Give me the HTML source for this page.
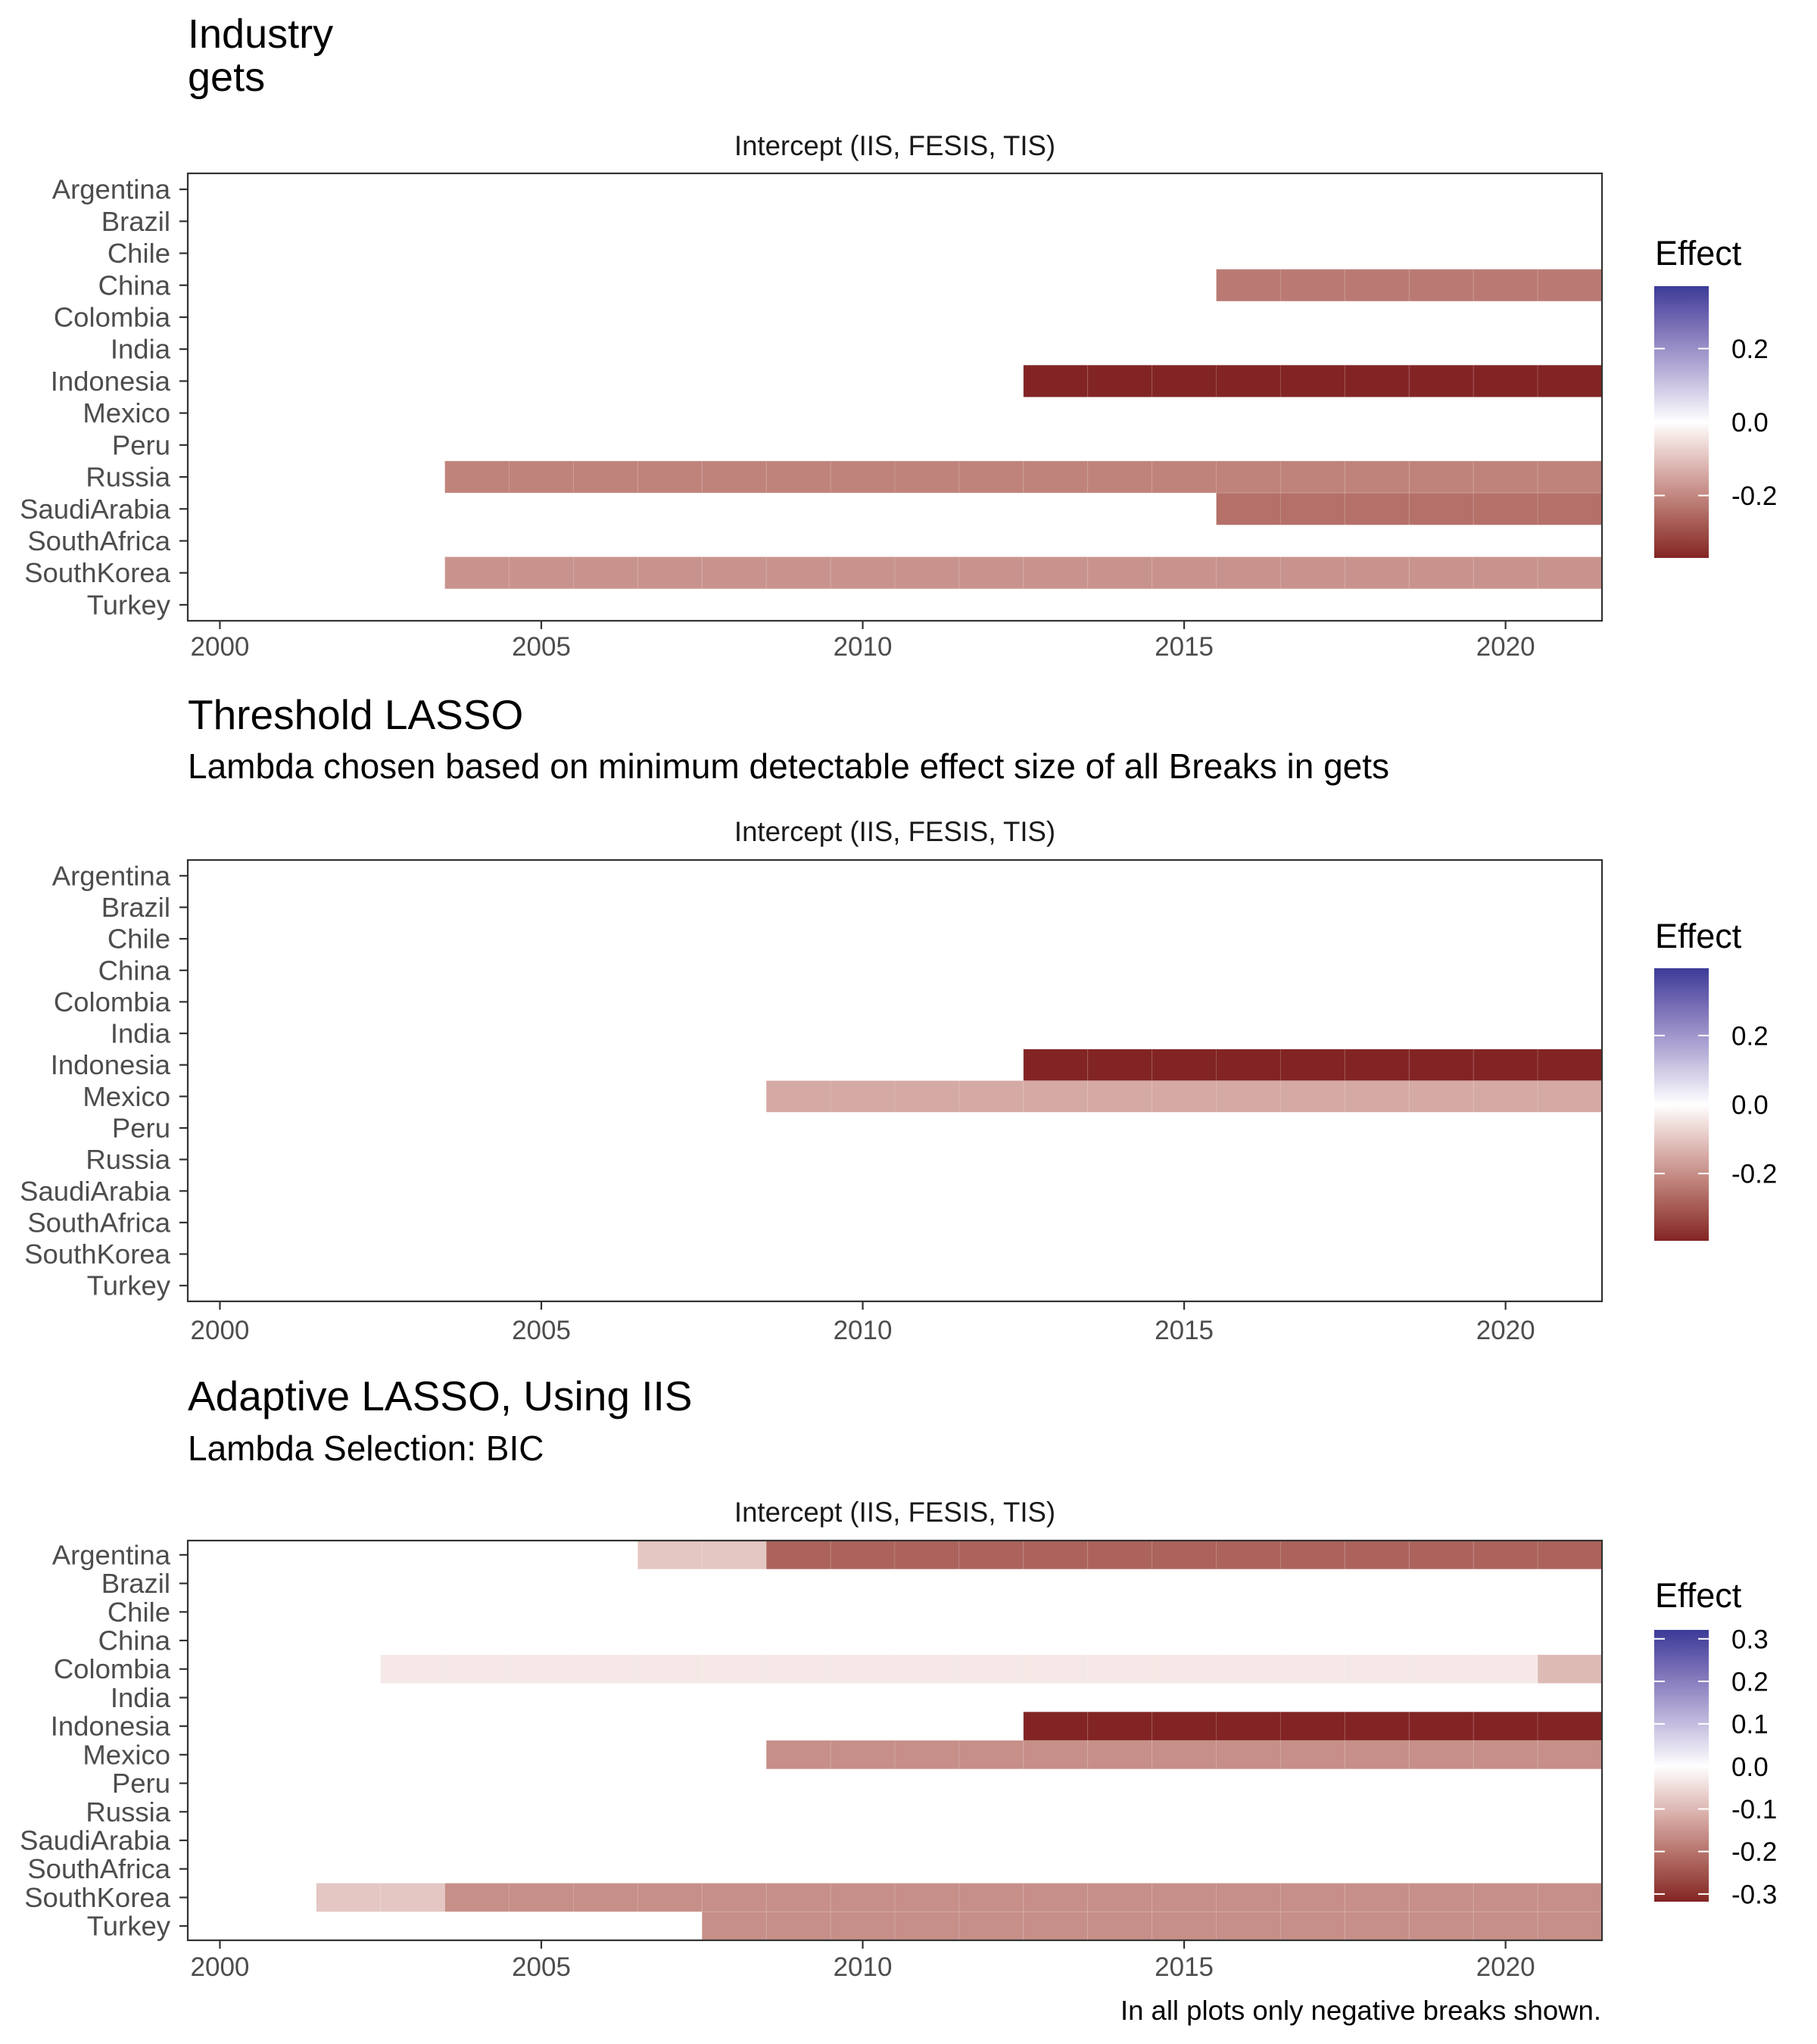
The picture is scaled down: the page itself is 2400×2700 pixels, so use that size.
<!DOCTYPE html>
<html><head><meta charset="utf-8"><title>Industry breaks</title>
<style>html,body{margin:0;padding:0;background:#fff}svg{display:block;font-family:"Liberation Sans",Arial,sans-serif}</style>
</head><body>
<svg id="chart" width="2400" height="2700" viewBox="0 0 2400 2700" xmlns="http://www.w3.org/2000/svg">
<rect width="2400" height="2700" fill="#fff"/>
<text x="248" y="63" font-size="54" fill="#000">Industry</text>
<text x="248" y="120" font-size="54" fill="#000">gets</text>
<text x="248" y="963" font-size="55" fill="#000">Threshold LASSO</text>
<text x="248" y="1028" font-size="46" fill="#000">Lambda chosen based on minimum detectable effect size of all Breaks in gets</text>
<text x="248" y="1863" font-size="55" fill="#000">Adaptive LASSO, Using IIS</text>
<text x="248" y="1929" font-size="46" fill="#000">Lambda Selection: BIC</text>
<text x="2115" y="2668" font-size="36.5" text-anchor="end" fill="#000">In all plots only negative breaks shown.</text>
</svg>
<script>
const countries = ["Argentina","Brazil","Chile","China","Colombia","India","Indonesia","Mexico","Peru","Russia","SaudiArabia","SouthAfrica","SouthKorea","Turkey"];
const xTicks = [2000,2005,2010,2015,2020];
// Panel 1 (gets)
const p1Country = ["China","Indonesia","Russia","SaudiArabia","SouthKorea"];
const p1Start = [2016,2013,2004,2016,2004];
const p1End = [2021,2021,2021,2021,2021];
const p1Value = [-0.223,-0.37,-0.207,-0.240,-0.179];
const p1Legend = [0.2,0.0,-0.2];
// Panel 2 (Threshold LASSO)
const p2Country = ["Indonesia","Mexico"];
const p2Start = [2013,2009];
const p2End = [2021,2021];
const p2Value = [-0.395,-0.151];
const p2Legend = [0.2,0.0,-0.2];
// Panel 3 (Adaptive LASSO)
const p3Country = ["Argentina","Argentina","Colombia","Colombia","Indonesia","Mexico","SouthKorea","SouthKorea","Turkey"];
const p3Start = [2007,2009,2003,2021,2013,2009,2002,2004,2008];
const p3End = [2008,2021,2020,2021,2021,2021,2003,2021,2021];
const p3Value = [-0.08,-0.226,-0.032,-0.098,-0.318,-0.161,-0.08,-0.161,-0.161];
const p3Legend = [0.3,0.2,0.1,0.0,-0.1,-0.2,-0.3];

const NS="http://www.w3.org/2000/svg";
const svg=document.getElementById('chart');
function mk(tag,attrs,parent){const e=document.createElementNS(NS,tag);for(const k in attrs)e.setAttribute(k,attrs[k]);(parent||svg).appendChild(e);return e;}

function s2l(c){c/=255;return c<=0.04045?c/12.92:Math.pow((c+0.055)/1.055,2.4);}
function l2s(c){c=c<=0.0031308?12.92*c:1.055*Math.pow(c,1/2.4)-0.055;return Math.max(0,Math.min(255,Math.round(c*255)));}
function hex2lab(h){const r=s2l(parseInt(h.substr(1,2),16)),g=s2l(parseInt(h.substr(3,2),16)),b=s2l(parseInt(h.substr(5,2),16));
 let X=(0.4124*r+0.3576*g+0.1805*b)/0.95047,Y=0.2126*r+0.7152*g+0.0722*b,Z=(0.0193*r+0.1192*g+0.9505*b)/1.08883;
 const f=t=>t>0.008856?Math.cbrt(t):7.787*t+16/116;X=f(X);Y=f(Y);Z=f(Z);return [116*Y-16,500*(X-Y),200*(Y-Z)];}
function lab2rgb(L,a,b){let Y=(L+16)/116,X=a/500+Y,Z=Y-b/200;const fi=t=>t*t*t>0.008856?t*t*t:(t-16/116)/7.787;
 X=fi(X)*0.95047;Y=fi(Y);Z=fi(Z)*1.08883;
 const r=3.2406*X-1.5372*Y-0.4986*Z,g=-0.9689*X+1.8758*Y+0.0415*Z,bb=0.0557*X-0.2040*Y+1.0570*Z;
 return "rgb("+l2s(r)+","+l2s(g)+","+l2s(bb)+")";}
const LOW=hex2lab("#822424"),MID=hex2lab("#ffffff"),HIGH=hex2lab("#3b3b98");
function colorOf(v,lim){let t=Math.max(-1,Math.min(1,v/lim));const tgt=t<0?LOW:HIGH;t=Math.abs(t);
 return lab2rgb(MID[0]+(tgt[0]-MID[0])*t,MID[1]+(tgt[1]-MID[1])*t,MID[2]+(tgt[2]-MID[2])*t);}

const X0=248,X1=2116,XMIN=1999.5,XMAX=2021.5;
function xs(v){return X0+(v-XMIN)/(XMAX-XMIN)*(X1-X0);}

function panel(id,top,bottom,stripY,tickY,cArr,sArr,eArr,vArr,lim,leg){
 const g=mk('g',{});
 
 
 const rh=(bottom-top)/countries.length;
 const ys=c=>top+countries.indexOf(c)*rh;
 const st=mk('text',{x:(X0+X1)/2,y:stripY,'font-size':36.6,'text-anchor':'middle',fill:'#1a1a1a'},g);
 
 
 st.textContent='Intercept (IIS, FESIS, TIS)';
 const tg=mk('g',{},g);
 
 
 for(let i=0;i<cArr.length;i++){
  for(let yr=sArr[i];yr<=eArr[i];yr++){
   const r=mk('rect',{x:xs(yr-0.5),y:ys(cArr[i]),width:xs(yr+0.5)-xs(yr-0.5),height:rh,fill:colorOf(vArr[i],lim),stroke:'rgba(255,255,255,0.12)','stroke-width':1},tg);
   
   
  }
 }
 const fr=mk('rect',{x:X0,y:top,width:X1-X0,height:bottom-top,fill:'none',stroke:'#333','stroke-width':2.2},g);
 
 
 countries.forEach((c,i)=>{
  const cy=top+(i+0.5)*rh;
  const tk=mk('line',{x1:X0-11,x2:X0,y1:cy,y2:cy,stroke:'#333','stroke-width':2.2},g);
  
  
  const t=mk('text',{x:225,y:cy+12.5,'font-size':36.5,'text-anchor':'end',fill:'#4d4d4d'},g);
  
  
  t.textContent=c;
 });
 xTicks.forEach(v=>{
  const tk=mk('line',{x1:xs(v),x2:xs(v),y1:bottom,y2:bottom+11,stroke:'#333','stroke-width':2.2},g);
  
  
  const t=mk('text',{x:xs(v),y:tickY,'font-size':35,'text-anchor':'middle',fill:'#4d4d4d'},g);
  
  
  t.textContent=v;
 });
 const lg=mk('g',{},g);
 
 
 const lt=mk('text',{x:2186,y:leg.titleY,'font-size':45,fill:'#000'},lg);
 
 
 lt.textContent='Effect';
 const gid='grad-'+id;
 const defs=mk('defs',{},lg);
 const lgr=mk('linearGradient',{id:gid,x1:0,y1:0,x2:0,y2:1},defs);
 for(let k=0;k<=40;k++){const v=leg.max-(leg.max-leg.min)*k/40;mk('stop',{offset:(k/40),'stop-color':colorOf(v,lim)},lgr);}
 const bar=mk('rect',{x:2185,y:leg.top,width:72,height:leg.bottom-leg.top,fill:'url(#'+gid+')'},lg);
 
 
 const ly=v=>leg.top+(leg.max-v)/(leg.max-leg.min)*(leg.bottom-leg.top);
 leg.ticks.forEach(v=>{
  const y=ly(v);
  mk('line',{x1:2185,x2:2199,y1:y,y2:y,stroke:'#fff','stroke-width':2},lg);
  mk('line',{x1:2243,x2:2257,y1:y,y2:y,stroke:'#fff','stroke-width':2},lg);
  const t=mk('text',{x:2287,y:y+12.5,'font-size':35,fill:'#000'},lg);
  
  
  t.textContent=v.toFixed(1);
 });
}
panel('panel1',229,820,205,866,p1Country,p1Start,p1End,p1Value,0.37,{titleY:350,top:378,bottom:737,max:0.37,min:-0.37,ticks:p1Legend});
panel('panel2',1136,1719,1111,1769,p2Country,p2Start,p2End,p2Value,0.395,{titleY:1252,top:1279,bottom:1639,max:0.395,min:-0.395,ticks:p2Legend});
panel('panel3',2035,2563,2010,2610,p3Country,p3Start,p3End,p3Value,0.318,{titleY:2123,top:2153,bottom:2512,max:0.321,min:-0.318,ticks:p3Legend});
</script>
</body></html>
